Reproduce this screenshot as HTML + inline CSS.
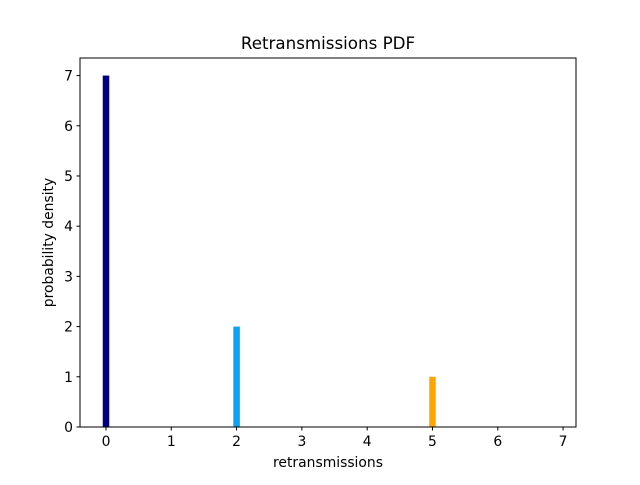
<!DOCTYPE html>
<html><head><meta charset="utf-8"><style>
body{margin:0;background:#fff;}
text{font-family:"DejaVu Sans","Liberation Sans",sans-serif;}
</style></head><body>
<svg id="chart" width="640" height="480" xmlns="http://www.w3.org/2000/svg">
<rect width="640" height="480" fill="#fff"/>
<text x="328" y="49" font-size="16.7" text-anchor="middle">Retransmissions PDF</text>
<text x="328" y="467" font-size="13.9" text-anchor="middle">retransmissions</text>
<text transform="translate(53,242.5) rotate(-90)" font-size="13.9" text-anchor="middle">probability density</text>
<g id="bars"></g>
<g id="ticks"></g>
<rect x="80" y="58" width="496" height="369" fill="none" stroke="#000" stroke-width="1"/>
</svg>
<script>
const categories = [0, 2, 5];
const values = [7, 2, 1];
const colors = ['#000080', '#0ca3f2', '#ffa500'];
const xTicks = [0, 1, 2, 3, 4, 5, 6, 7];
const yTicks = [0, 1, 2, 3, 4, 5, 6, 7];
const X0 = 80, X1 = 576, Y0 = 427, Y1 = 58;
const xMin = -0.398, xMax = 7.198, yMin = 0, yMax = 7.35;
const barW = 0.1;
function xs(v){return X0 + (v - xMin) / (xMax - xMin) * (X1 - X0);}
function ys(v){return Y0 - (v - yMin) / (yMax - yMin) * (Y0 - Y1);}
const NS = 'http://www.w3.org/2000/svg';
const bars = document.getElementById('bars');
categories.forEach((c, i) => {
  const r = document.createElementNS(NS, 'rect');
  r.setAttribute('x', xs(c - barW / 2));
  r.setAttribute('width', xs(c + barW / 2) - xs(c - barW / 2));
  r.setAttribute('y', ys(values[i]));
  r.setAttribute('height', ys(0) - ys(values[i]));
  r.setAttribute('fill', colors[i]);
  
  
  bars.appendChild(r);
});
const tg = document.getElementById('ticks');
xTicks.forEach(t => {
  const x = xs(t);
  const l = document.createElementNS(NS, 'line');
  l.setAttribute('x1', x); l.setAttribute('x2', x);
  l.setAttribute('y1', Y0); l.setAttribute('y2', Y0 + 3.5);
  l.setAttribute('stroke', '#000');
  
  
  tg.appendChild(l);
  const tx = document.createElementNS(NS, 'text');
  tx.setAttribute('x', x); tx.setAttribute('y', Y0 + 19);
  tx.setAttribute('font-size', '13.9'); tx.setAttribute('text-anchor', 'middle');
  tx.textContent = t;
  
  
  tg.appendChild(tx);
});
yTicks.forEach(t => {
  const y = ys(t);
  const l = document.createElementNS(NS, 'line');
  l.setAttribute('x1', X0 - 3.5); l.setAttribute('x2', X0);
  l.setAttribute('y1', y); l.setAttribute('y2', y);
  l.setAttribute('stroke', '#000');
  
  
  tg.appendChild(l);
  const tx = document.createElementNS(NS, 'text');
  tx.setAttribute('x', X0 - 7); tx.setAttribute('y', y + 5);
  tx.setAttribute('font-size', '13.9'); tx.setAttribute('text-anchor', 'end');
  tx.textContent = t;
  
  
  tg.appendChild(tx);
});
</script>
</body></html>
